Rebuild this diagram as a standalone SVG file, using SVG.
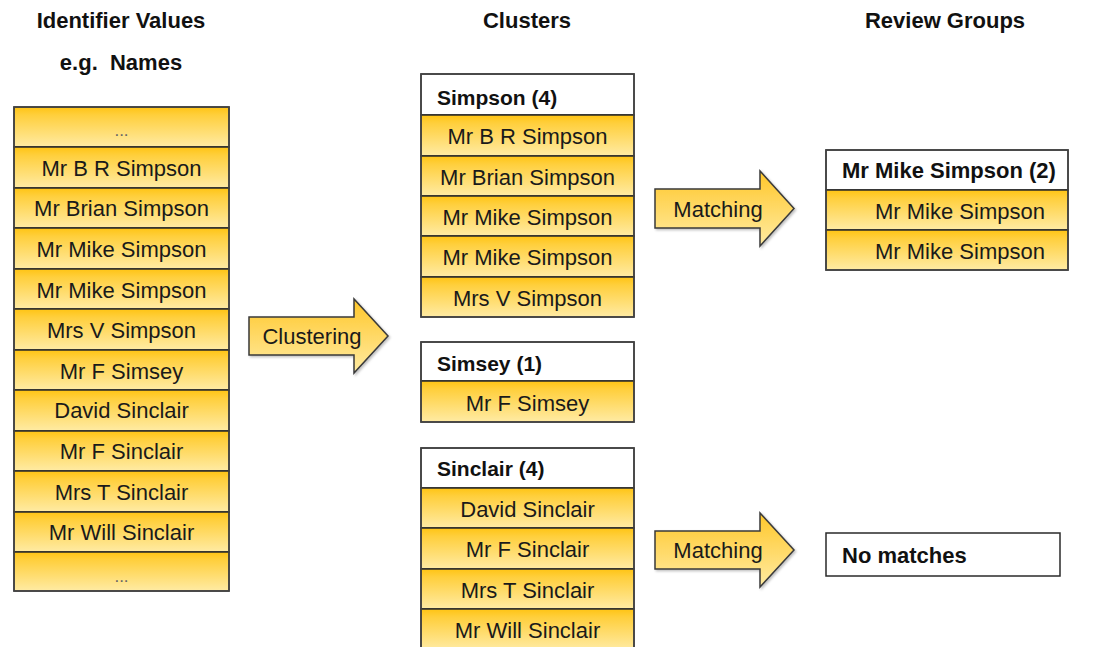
<svg xmlns="http://www.w3.org/2000/svg" width="1095" height="647" viewBox="0 0 1095 647">
<defs>
<linearGradient id="cellGrad" x1="0" y1="0" x2="0" y2="1">
<stop offset="0" stop-color="#FFC414"/>
<stop offset="0.2" stop-color="#FFCF3C"/>
<stop offset="1" stop-color="#FFEBA4"/>
</linearGradient>
<linearGradient id="arrowGrad" x1="0" y1="0" x2="0" y2="1">
<stop offset="0" stop-color="#FFC72A"/>
<stop offset="1" stop-color="#FFEBA2"/>
</linearGradient>
<filter id="shadow" x="-10%" y="-10%" width="130%" height="130%">
<feDropShadow dx="1.5" dy="1.5" stdDeviation="1" flood-color="#000" flood-opacity="0.25"/>
</filter>
</defs>
<style>
.cell{fill:url(#cellGrad);stroke:#2a2a2a;stroke-width:1.5}
.head{fill:#fff;stroke:#2a2a2a;stroke-width:1.5}
.frame{fill:none;stroke:#444;stroke-width:1.5}
.t{font-family:"Liberation Sans",Arial,sans-serif;font-size:22px;fill:#1a1a1a;text-anchor:middle}
.h{font-family:"Liberation Sans",Arial,sans-serif;font-size:21px;font-weight:bold;fill:#111}
.h2{font-family:"Liberation Sans",Arial,sans-serif;font-size:22px;font-weight:bold;fill:#111}
.title{font-family:"Liberation Sans",Arial,sans-serif;font-size:22px;font-weight:bold;fill:#111;text-anchor:middle}
.dots{font-family:"Liberation Sans",Arial,sans-serif;font-size:17px;fill:#666;text-anchor:middle}
.arrow{fill:url(#arrowGrad);stroke:#3a3a3a;stroke-width:1.5;filter:url(#shadow)}
</style>
<rect width="1095" height="647" fill="#fff"/>

<g id="titles">
<text class="title" x="121" y="28">Identifier Values</text>
<text class="title" x="121" y="70" xml:space="preserve">e.g.  Names</text>
<text class="title" x="527" y="28">Clusters</text>
<text class="title" x="945" y="28">Review Groups</text>
</g>

<g id="identifier-values">
<rect class="cell" x="14" y="107" width="215" height="40"/>
<text class="dots" x="121.5" y="136">...</text>
<rect class="cell" x="14" y="147" width="215" height="41"/>
<text class="t" x="121.5" y="176">Mr B R Simpson</text>
<rect class="cell" x="14" y="188" width="215" height="40"/>
<text class="t" x="121.5" y="216">Mr Brian Simpson</text>
<rect class="cell" x="14" y="228" width="215" height="41"/>
<text class="t" x="121.5" y="257">Mr Mike Simpson</text>
<rect class="cell" x="14" y="269" width="215" height="40"/>
<text class="t" x="121.5" y="298">Mr Mike Simpson</text>
<rect class="cell" x="14" y="309" width="215" height="41"/>
<text class="t" x="121.5" y="338">Mrs V Simpson</text>
<rect class="cell" x="14" y="350" width="215" height="40"/>
<text class="t" x="121.5" y="379">Mr F Simsey</text>
<rect class="cell" x="14" y="390" width="215" height="41"/>
<text class="t" x="121.5" y="418">David Sinclair</text>
<rect class="cell" x="14" y="431" width="215" height="40"/>
<text class="t" x="121.5" y="459">Mr F Sinclair</text>
<rect class="cell" x="14" y="471" width="215" height="41"/>
<text class="t" x="121.5" y="500">Mrs T Sinclair</text>
<rect class="cell" x="14" y="512" width="215" height="40"/>
<text class="t" x="121.5" y="540">Mr Will Sinclair</text>
<rect class="cell" x="14" y="552" width="215" height="39"/>
<text class="dots" x="121.5" y="582">...</text>
<rect class="frame" x="14" y="107" width="215" height="484"/>
</g>

<g id="cluster-simpson">
<rect class="head" x="421" y="74" width="213" height="41"/>
<text class="h" x="437" y="105">Simpson (4)</text>
<rect class="cell" x="421" y="115" width="213" height="41"/>
<text class="t" x="527.5" y="144">Mr B R Simpson</text>
<rect class="cell" x="421" y="156" width="213" height="40"/>
<text class="t" x="527.5" y="185">Mr Brian Simpson</text>
<rect class="cell" x="421" y="196" width="213" height="40"/>
<text class="t" x="527.5" y="225">Mr Mike Simpson</text>
<rect class="cell" x="421" y="236" width="213" height="41"/>
<text class="t" x="527.5" y="265">Mr Mike Simpson</text>
<rect class="cell" x="421" y="277" width="213" height="40"/>
<text class="t" x="527.5" y="306">Mrs V Simpson</text>
<rect class="frame" x="421" y="74" width="213" height="243"/>
</g>

<g id="cluster-simsey">
<rect class="head" x="421" y="342" width="213" height="39"/>
<text class="h" x="437" y="371">Simsey (1)</text>
<rect class="cell" x="421" y="381" width="213" height="41"/>
<text class="t" x="527.5" y="411">Mr F Simsey</text>
<rect class="frame" x="421" y="342" width="213" height="80"/>
</g>

<g id="cluster-sinclair">
<rect class="head" x="421" y="448" width="213" height="40"/>
<text class="h" x="437" y="476">Sinclair (4)</text>
<rect class="cell" x="421" y="488" width="213" height="40"/>
<text class="t" x="527.5" y="517">David Sinclair</text>
<rect class="cell" x="421" y="528" width="213" height="41"/>
<text class="t" x="527.5" y="557">Mr F Sinclair</text>
<rect class="cell" x="421" y="569" width="213" height="40"/>
<text class="t" x="527.5" y="598">Mrs T Sinclair</text>
<rect class="cell" x="421" y="609" width="213" height="41"/>
<text class="t" x="527.5" y="638">Mr Will Sinclair</text>
<rect class="frame" x="421" y="448" width="213" height="202"/>
</g>

<g id="review-mike-simpson">
<rect class="head" x="826" y="150" width="242" height="40"/>
<text class="h2" x="842" y="178">Mr Mike Simpson (2)</text>
<rect class="cell" x="826" y="190" width="242" height="40"/>
<text class="t" x="960" y="219">Mr Mike Simpson</text>
<rect class="cell" x="826" y="230" width="242" height="40"/>
<text class="t" x="960" y="259">Mr Mike Simpson</text>
<rect class="frame" x="826" y="150" width="242" height="120"/>
</g>

<g id="review-no-matches">
<rect class="head" x="826" y="533" width="234" height="43"/>
<text class="h2" x="842" y="563">No matches</text>
</g>

<g id="connectors">
<g id="arrow-clustering">
<path class="arrow" d="M249,317 L354,317 L354,299 L388,336 L354,373 L354,355 L249,355 Z"/>
<text class="t" x="312" y="344">Clustering</text>
</g>
<g id="arrow-matching-1">
<path class="arrow" d="M655,189 L760,189 L760,171 L794,208.5 L760,246 L760,228 L655,228 Z"/>
<text class="t" x="718" y="217">Matching</text>
</g>
<g id="arrow-matching-2">
<path class="arrow" d="M655,531 L760,531 L760,513 L794,550 L760,587 L760,569 L655,569 Z"/>
<text class="t" x="718" y="558">Matching</text>
</g>
</g>
</svg>
